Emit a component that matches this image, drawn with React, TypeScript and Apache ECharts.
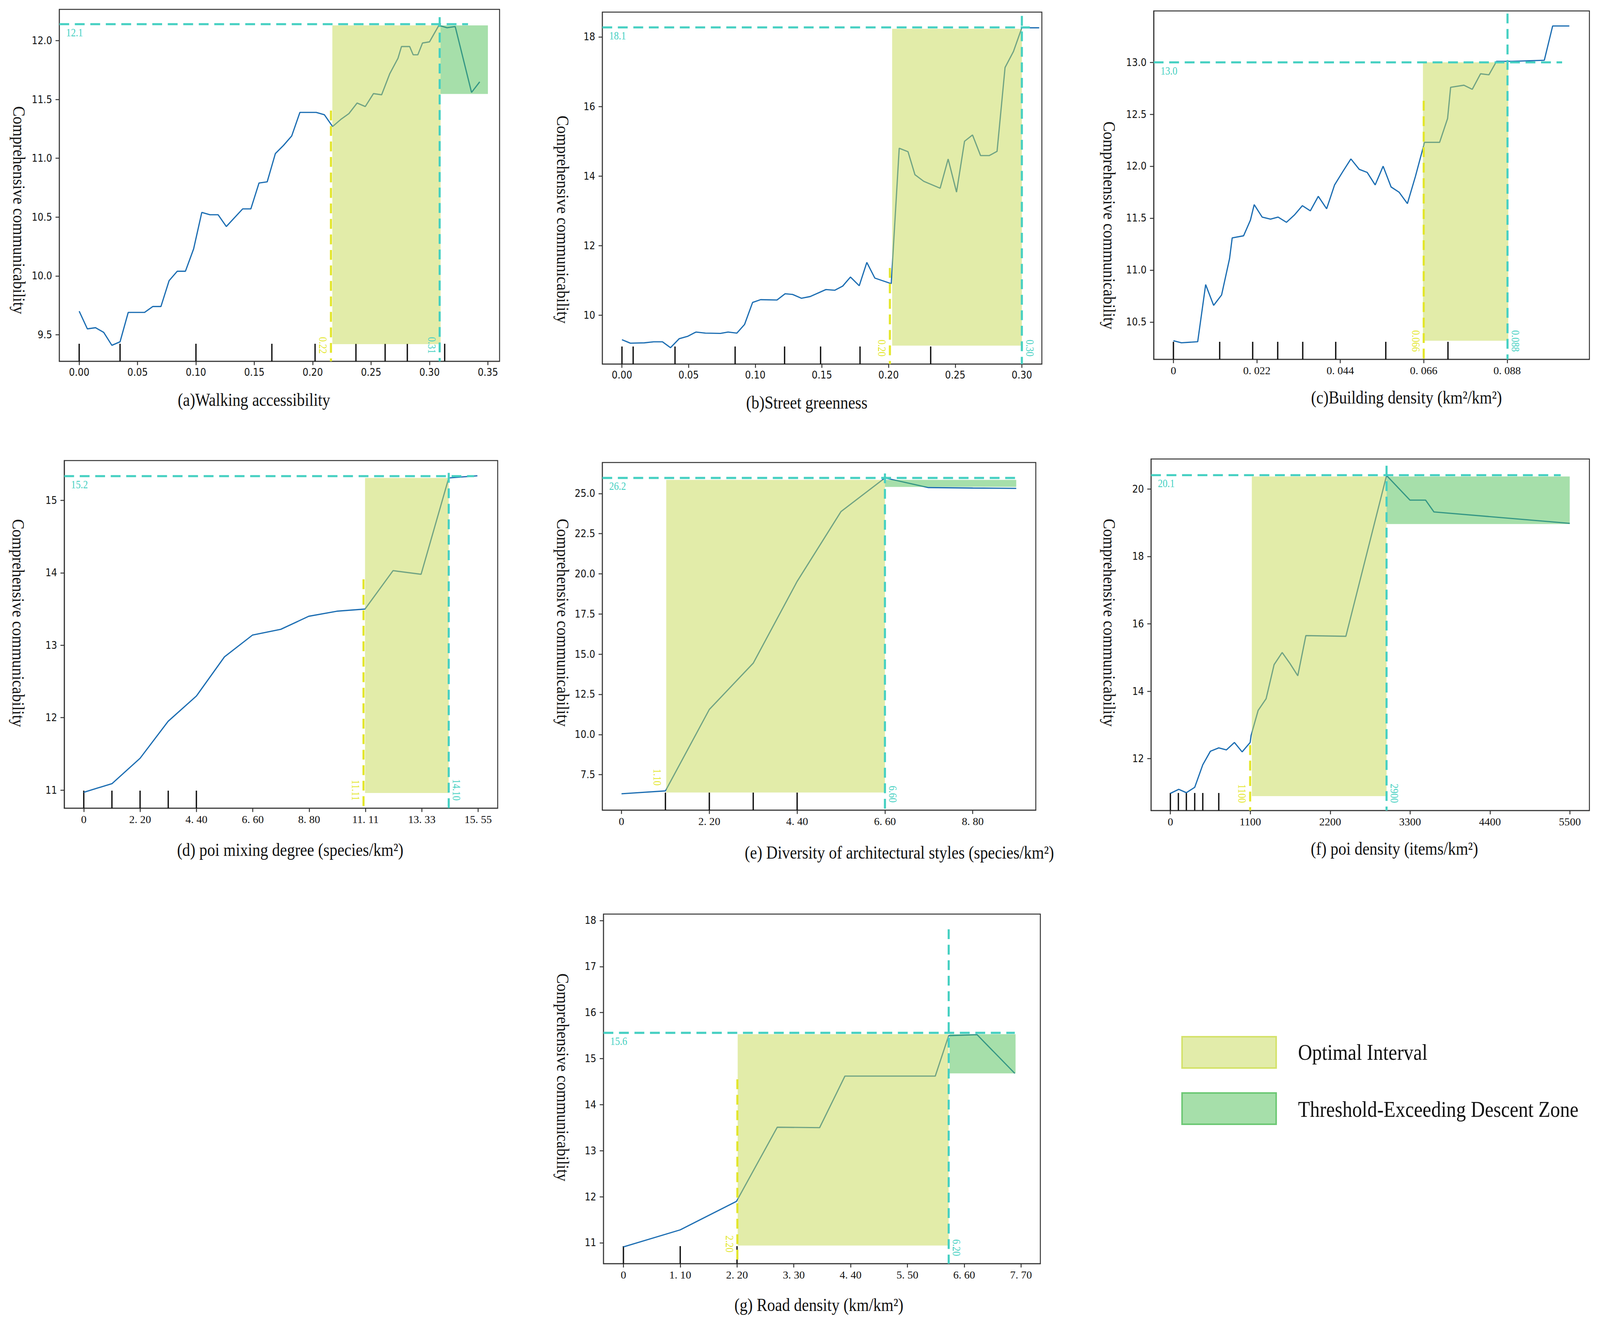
import React, { useEffect, useRef } from "react";
import * as echarts from "echarts";

// ---------------- data: (a) Walking accessibility ----------------
const aX = [0, 0.007, 0.014, 0.021, 0.028, 0.035, 0.042, 0.056, 0.063, 0.07, 0.077, 0.084, 0.091, 0.098, 0.105, 0.112, 0.119, 0.126, 0.14, 0.147, 0.154, 0.161, 0.168, 0.175, 0.182, 0.189, 0.203, 0.21, 0.217, 0.224, 0.231, 0.238, 0.245, 0.252, 0.259, 0.266, 0.273, 0.276, 0.283, 0.286, 0.29, 0.294, 0.3, 0.308, 0.315, 0.322, 0.336, 0.343];
const aY = [9.7, 9.55, 9.56, 9.52, 9.41, 9.44, 9.69, 9.69, 9.74, 9.74, 9.96, 10.04, 10.04, 10.23, 10.54, 10.52, 10.52, 10.42, 10.57, 10.57, 10.79, 10.8, 11.04, 11.11, 11.19, 11.39, 11.39, 11.37, 11.27, 11.33, 11.38, 11.47, 11.44, 11.55, 11.54, 11.72, 11.85, 11.95, 11.95, 11.88, 11.88, 11.98, 11.99, 12.13, 12.11, 12.12, 11.56, 11.65];
const aXRange = [-0.017, 0.36];
const aYRange = [9.274, 12.266];
const aXTicks = [0, 0.05, 0.1, 0.15, 0.2, 0.25, 0.3, 0.35];
const aXTickLabels = ["0.00", "0.05", "0.10", "0.15", "0.20", "0.25", "0.30", "0.35"];
const aYTicks = [9.5, 10, 10.5, 11, 11.5, 12];
const aYTickLabels = ["9.5", "10.0", "10.5", "11.0", "11.5", "12.0"];
const aRug = [0, 0.035, 0.1, 0.165, 0.202, 0.237, 0.262, 0.281, 0.313];
const aOptimal = [0.2168, 0.3095, 9.42, 12.13];
const aDescent = [0.3095, 0.35, 11.547, 12.13];
const aPeak = [0.333, 12.14];
const aUpper = [0.3087, 12.2];
const aLower = [0.2156, 11.406];
const aLabels = ["12.1", "0.31", "0.22"];
const aTitle = "(a)Walking accessibility";

// ---------------- data: (b) Street greenness ----------------
const bX = [0, 0.0063, 0.0168, 0.0238, 0.0304, 0.0364, 0.043, 0.0495, 0.0555, 0.0626, 0.0739, 0.0796, 0.0862, 0.092, 0.098, 0.104, 0.1163, 0.1224, 0.128, 0.1347, 0.1412, 0.153, 0.1596, 0.1656, 0.1714, 0.178, 0.1837, 0.1897, 0.202, 0.208, 0.2146, 0.2198, 0.2264, 0.2387, 0.2447, 0.251, 0.257, 0.263, 0.269, 0.2756, 0.2814, 0.2874, 0.2937, 0.3, 0.313];
const bY = [9.3, 9.2, 9.21, 9.24, 9.24, 9.07, 9.33, 9.4, 9.52, 9.49, 9.48, 9.52, 9.49, 9.74, 10.37, 10.45, 10.44, 10.62, 10.6, 10.49, 10.54, 10.74, 10.72, 10.84, 11.1, 10.85, 11.52, 11.07, 10.91, 14.8, 14.7, 14.04, 13.85, 13.65, 14.49, 13.54, 15.0, 15.18, 14.59, 14.59, 14.71, 17.12, 17.58, 18.26, 18.26];
const bXRange = [-0.0147, 0.315];
const bYRange = [8.6, 18.71];
const bXTicks = [0, 0.05, 0.1, 0.15, 0.2, 0.25, 0.3];
const bXTickLabels = ["0.00", "0.05", "0.10", "0.15", "0.20", "0.25", "0.30"];
const bYTicks = [10, 12, 14, 16, 18];
const bYTickLabels = ["10", "12", "14", "16", "18"];
const bRug = [0, 0.0084, 0.0398, 0.0849, 0.122, 0.149, 0.1786, 0.2316];
const bOptimal = [0.2027, 0.3, 9.13, 18.23];
const bPeak = [0.306, 18.27];
const bUpper = [0.3, 18.6];
const bLower = [0.201, 11.36];
const bLabels = ["18.1", "0.30", "0.20"];
const bTitle = "(b)Street greenness";

// ---------------- data: (c) Building density ----------------
const cX = [0, 0.0021, 0.0064, 0.0085, 0.0106, 0.0127, 0.0148, 0.0155, 0.0185, 0.0203, 0.0213, 0.0234, 0.0256, 0.0276, 0.0298, 0.0319, 0.034, 0.0361, 0.0382, 0.0404, 0.0425, 0.0447, 0.0468, 0.049, 0.0511, 0.0532, 0.0553, 0.0574, 0.0595, 0.0617, 0.0638, 0.066, 0.0662, 0.0702, 0.0723, 0.0731, 0.0766, 0.0788, 0.081, 0.0832, 0.0852, 0.0893, 0.0978, 0.1, 0.1044];
const cY = [10.32, 10.3, 10.31, 10.86, 10.66, 10.76, 11.11, 11.31, 11.33, 11.48, 11.63, 11.51, 11.49, 11.51, 11.46, 11.53, 11.62, 11.57, 11.71, 11.59, 11.82, 11.95, 12.07, 11.97, 11.94, 11.82, 12.0, 11.8, 11.75, 11.64, 11.9, 12.2, 12.23, 12.23, 12.46, 12.76, 12.78, 12.74, 12.89, 12.88, 13.01, 13.01, 13.02, 13.35, 13.35];
const cXRange = [-0.0052, 0.1097];
const cYRange = [10.14, 13.495];
const cXTicks = [0, 0.022, 0.044, 0.066, 0.088];
const cXTickLabels = ["0", "0. 022", "0. 044", "0. 066", "0. 088"];
const cYTicks = [10.5, 11, 11.5, 12, 12.5, 13];
const cYTickLabels = ["10.5", "11.0", "11.5", "12.0", "12.5", "13.0"];
const cRug = [0, 0.0122, 0.0209, 0.0275, 0.0341, 0.0428, 0.056, 0.0724];
const cOptimal = [0.0658, 0.0883, 10.32, 13.0];
const cPeak = [0.1025, 13.0];
const cUpper = [0.0881, 13.47];
const cLower = [0.066, 12.63];
const cLabels = ["13.0", "0.088", "0.066"];
const cTitle = "(c)Building density (km²/km²)";

// ---------------- data: (d) poi mixing degree ----------------
const dX = [0, 1.117, 2.22, 3.326, 4.443, 5.547, 6.65, 7.768, 8.87, 9.977, 11.09, 12.194, 13.3, 14.39, 15.52];
const dY = [10.97, 11.09, 11.44, 11.95, 12.3, 12.84, 13.14, 13.22, 13.4, 13.47, 13.5, 14.03, 13.98, 15.31, 15.34];
const dXRange = [-0.77, 16.32];
const dYRange = [10.75, 15.55];
const dXTicks = [0, 2.2214, 4.4429, 6.6643, 8.8857, 11.1071, 13.3286, 15.55];
const dXTickLabels = ["0", "2. 20", "4. 40", "6. 60", "8. 80", "11. 11", "13. 33", "15. 55"];
const dYTicks = [11, 12, 13, 14, 15];
const dYTickLabels = ["11", "12", "13", "14", "15"];
const dRug = [0, 1.11, 2.22, 3.33, 4.44];
const dOptimal = [11.09, 14.39, 10.96, 15.31];
const dPeak = [15.39, 15.335];
const dUpper = [14.39, 15.38];
const dLower = [11.03, 13.91];
const dLabels = ["15.2", "14.10", "11.11"];
const dTitle = "(d) poi mixing degree (species/km²)";

// ---------------- data: (e) Diversity of architectural styles ----------------
const eX = [0, 1.1, 2.2, 3.3, 4.4, 5.5, 6.6, 7.69, 8.8, 9.89];
const eY = [6.31, 6.49, 11.56, 14.44, 19.53, 23.88, 25.97, 25.37, 25.34, 25.32];
const eXRange = [-0.48, 10.38];
const eYRange = [5.29, 26.93];
const eXTicks = [0, 2.2, 4.4, 6.6, 8.8];
const eXTickLabels = ["0", "2. 20", "4. 40", "6. 60", "8. 80"];
const eYTicks = [7.5, 10, 12.5, 15, 17.5, 20, 22.5, 25];
const eYTickLabels = ["7.5", "10.0", "12.5", "15.0", "17.5", "20.0", "22.5", "25.0"];
const eRug = [1.1, 2.2, 3.3, 4.4];
const eOptimal = [1.12, 6.6, 6.39, 25.85];
const eDescent = [6.6, 9.89, 25.41, 25.85];
const ePeak = [9.89, 25.97];
const eUpper = [6.6, 26.25];
const eLower = [1.1, null];
const eLabels = ["26.2", "6.60", "1.10"];
const eTitle = "(e) Diversity of architectural styles (species/km²)";

// ---------------- data: (f) poi density ----------------
const fX = [0, 115, 220, 335, 446, 551, 666, 772, 882, 988, 1098, 1111, 1208, 1318, 1428, 1539, 1644, 1754, 1865, 2416, 2976, 3298, 3514, 3628, 5498];
const fY = [10.97, 11.09, 10.99, 11.15, 11.82, 12.22, 12.32, 12.26, 12.48, 12.2, 12.48, 12.69, 13.43, 13.78, 14.79, 15.15, 14.83, 14.46, 15.65, 15.63, 20.4, 19.67, 19.67, 19.32, 18.98];
const fXRange = [-266, 5769];
const fYRange = [10.46, 20.89];
const fXTicks = [0, 1100, 2200, 3300, 4400, 5500];
const fXTickLabels = ["0", "1100", "2200", "3300", "4400", "5500"];
const fYTicks = [12, 14, 16, 18, 20];
const fYTickLabels = ["12", "14", "16", "18", "20"];
const fRug = [0, 110, 220, 335, 446, 666];
const fOptimal = [1121, 2976, 10.89, 20.37];
const fDescent = [2976, 5498, 18.96, 20.37];
const fPeak = [5374, 20.41];
const fUpper = [2976, 20.69];
const fLower = [1098, 12.4];
const fLabels = ["20.1", "2900", "1100"];
const fTitle = "(f) poi density (items/km²)";

// ---------------- data: (g) Road density ----------------
const gX = [0, 1.1, 2.19, 2.98, 3.8, 4.29, 6.04, 6.3, 6.85, 7.58];
const gY = [10.91, 11.28, 11.9, 13.51, 13.5, 14.62, 14.62, 15.5, 15.52, 14.68];
const gXRange = [-0.386, 8.075];
const gYRange = [10.545, 18.14];
const gXTicks = [0, 1.1, 2.2, 3.3, 4.4, 5.5, 6.6, 7.7];
const gXTickLabels = ["0", "1. 10", "2. 20", "3. 30", "4. 40", "5. 50", "6. 60", "7. 70"];
const gYTicks = [11, 12, 13, 14, 15, 16, 17, 18];
const gYTickLabels = ["11", "12", "13", "14", "15", "16", "17", "18"];
const gRug = [0, 1.1, 2.2];
const gOptimal = [2.213, 6.3, 10.94, 15.53];
const gDescent = [6.315, 7.595, 14.68, 15.53];
const gPeak = [7.58, 15.56];
const gUpper = [6.3, 17.81];
const gLower = [2.207, 14.55];
const gLabels = ["15.6", "6.20", "2.20"];
const gTitle = "(g) Road density (km/km²)";

const yAxisName = "Comprehensive communicability";
const legendLabels = ["Optimal Interval", "Threshold-Exceeding Descent Zone"];

// ---------------- styling ----------------
const BLUE = "#1b6db2";
const TEAL = "#46d0c2";
const YELLOW = "#e3e62b";
const OPT_FILL = "rgba(197,218,84,0.5)";
const DES_FILL = "rgba(77,192,86,0.5)";
const AXIS = "#333333";
const SANS = "'DejaVu Sans Condensed', 'DejaVu Sans', sans-serif";
const SERIF = "'Liberation Serif', 'Times New Roman', serif";
const REF_W = 4234;
const REF_H = 3374;

const panels = [
  { x: aX, y: aY, xr: aXRange, yr: aYRange, xt: aXTicks, xl: aXTickLabels, yt: aYTicks, yl: aYTickLabels, rug: aRug, opt: aOptimal, des: aDescent, peak: aPeak, up: aUpper, low: aLower, labels: aLabels, title: aTitle,
    grid: [157, 24, 1165, 901], titlePos: [672, 1023], yNamePos: [51, 538], upSide: -1, xSerif: false, lowLift: 20 },
  { x: bX, y: bY, xr: bXRange, yr: bYRange, xt: bXTicks, xl: bXTickLabels, yt: bYTicks, yl: bYTickLabels, rug: bRug, opt: bOptimal, des: null, peak: bPeak, up: bUpper, low: bLower, labels: bLabels, title: bTitle,
    grid: [1594, 31, 1163, 901], titlePos: [2135, 1030], yNamePos: [1490, 562], upSide: 1, xSerif: false, lowLift: 20 },
  { x: cX, y: cY, xr: cXRange, yr: cYRange, xt: cXTicks, xl: cXTickLabels, yt: cYTicks, yl: cYTickLabels, rug: cRug, opt: cOptimal, des: null, peak: cPeak, up: cUpper, low: cLower, labels: cLabels, title: cTitle,
    grid: [3053, 28, 1153, 892], titlePos: [3722, 1017], yNamePos: [2936, 577], upSide: 1, xSerif: true, lowLift: 20 },
  { x: dX, y: dY, xr: dXRange, yr: dYRange, xt: dXTicks, xl: dXTickLabels, yt: dYTicks, yl: dYTickLabels, rug: dRug, opt: dOptimal, des: null, peak: dPeak, up: dUpper, low: dLower, labels: dLabels, title: dTitle,
    grid: [170, 1179, 1147, 890], titlePos: [768, 2175], yNamePos: [49, 1595], upSide: 1, xSerif: true, lowLift: 20 },
  { x: eX, y: eY, xr: eXRange, yr: eYRange, xt: eXTicks, xl: eXTickLabels, yt: eYTicks, yl: eYTickLabels, rug: eRug, opt: eOptimal, des: eDescent, peak: ePeak, up: eUpper, low: eLower, labels: eLabels, title: eTitle,
    grid: [1594, 1184, 1147, 890], titlePos: [2380, 2182], yNamePos: [1490, 1594], upSide: 1, xSerif: true, lowLift: 65 },
  { x: fX, y: fY, xr: fXRange, yr: fYRange, xt: fXTicks, xl: fXTickLabels, yt: fYTicks, yl: fYTickLabels, rug: fRug, opt: fOptimal, des: fDescent, peak: fPeak, up: fUpper, low: fLower, labels: fLabels, title: fTitle,
    grid: [3046, 1175, 1160, 900], titlePos: [3690, 2172], yNamePos: [2936, 1594], upSide: 1, xSerif: true, lowLift: 20 },
  { x: gX, y: gY, xr: gXRange, yr: gYRange, xt: gXTicks, xl: gXTickLabels, yt: gYTicks, yl: gYTickLabels, rug: gRug, opt: gOptimal, des: gDescent, peak: gPeak, up: gUpper, low: gLower, labels: gLabels, title: gTitle,
    grid: [1597, 2340, 1156, 895], titlePos: [2167, 3340], yNamePos: [1490, 2758], upSide: 1, xSerif: true, lowLift: 30 },
];

function labelFor(ticks: number[], labels: string[], v: number) {
  let best = 0;
  for (let k = 1; k < ticks.length; k++) {
    if (Math.abs(ticks[k] - v) < Math.abs(ticks[best] - v)) best = k;
  }
  return labels[best];
}

function textStyle(text: string, fill: string, size: number, family: string, align: string, valign: string) {
  return { text, fill, fontSize: size, fontFamily: family, align, textAlign: align, verticalAlign: valign, textVerticalAlign: valign };
}

function buildOption(sx: number, sy: number) {
  const s = Math.min(sx, sy);
  const X = (v: number) => v * sx;
  const Y = (v: number) => v * sy;
  const S = (v: number) => v * s;
  const grid: any[] = [];
  const xAxis: any[] = [];
  const yAxis: any[] = [];
  const series: any[] = [];
  const graphic: any[] = [];
  const dash = [S(26), S(15)];
  const guideW = S(5.5);

  panels.forEach((p, i) => {
    grid.push({
      left: X(p.grid[0]), top: Y(p.grid[1]), width: X(p.grid[2]), height: Y(p.grid[3]),
      show: true, borderColor: AXIS, borderWidth: S(2.5), backgroundColor: "transparent",
    });
    xAxis.push({
      type: "value", gridIndex: i, min: p.xr[0], max: p.xr[1],
      axisLine: { show: true, onZero: false, lineStyle: { color: AXIS, width: S(2.5) } },
      axisTick: { show: true, length: S(10), customValues: p.xt, lineStyle: { color: AXIS, width: S(2.5) } },
      axisLabel: {
        customValues: p.xt, formatter: (v: number) => labelFor(p.xt, p.xl, v),
        fontSize: S(p.xSerif ? 29 : 27), color: "#111", fontFamily: p.xSerif ? SERIF : SANS, margin: S(15),
      },
      splitLine: { show: false },
    });
    yAxis.push({
      type: "value", gridIndex: i, min: p.yr[0], max: p.yr[1],
      axisLine: { show: true, onZero: false, lineStyle: { color: AXIS, width: S(2.5) } },
      axisTick: { show: true, length: S(10), customValues: p.yt, lineStyle: { color: AXIS, width: S(2.5) } },
      axisLabel: {
        customValues: p.yt, formatter: (v: number) => labelFor(p.yt, p.yl, v),
        fontSize: S(27), color: "#111", fontFamily: SANS, margin: S(19),
      },
      splitLine: { show: false },
    });

    // rug ticks
    series.push({
      type: "custom", xAxisIndex: i, yAxisIndex: i, z: 1, silent: true,
      data: p.rug.map((v) => [v, p.yr[0]]),
      renderItem: (_params: any, api: any) => {
        const pt = api.coord([api.value(0), p.yr[0]]);
        return { type: "line", shape: { x1: pt[0], y1: pt[1], x2: pt[0], y2: pt[1] - Y(45) }, style: { stroke: "#111", lineWidth: S(3.5) } };
      },
    });

    // curve
    series.push({
      type: "line", xAxisIndex: i, yAxisIndex: i, z: 2, silent: true,
      data: p.x.map((v, k) => [v, p.y[k]]),
      showSymbol: false, symbol: "none",
      lineStyle: { color: BLUE, width: S(3.2) },
    });

    // zones
    const zones: any[] = [[...p.opt, 0]];
    if (p.des) zones.push([...p.des, 1]);
    series.push({
      type: "custom", xAxisIndex: i, yAxisIndex: i, z: 3, silent: true,
      data: zones,
      renderItem: (_params: any, api: any) => {
        const p0 = api.coord([api.value(0), api.value(3)]);
        const p1 = api.coord([api.value(1), api.value(2)]);
        return {
          type: "rect",
          shape: { x: p0[0], y: p0[1], width: p1[0] - p0[0], height: p1[1] - p0[1] },
          style: { fill: api.value(4) === 1 ? DES_FILL : OPT_FILL },
        };
      },
    });

    // guides
    series.push({
      type: "custom", xAxisIndex: i, yAxisIndex: i, z: 4, silent: true,
      data: [[p.xr[0], p.yr[0]]],
      renderItem: (_params: any, api: any) => {
        const base = api.coord([p.xr[0], p.yr[0]]);
        const xl = base[0];
        const yb = base[1];
        const children: any[] = [];
        const h = api.coord([p.peak[0], p.peak[1]]);
        children.push({ type: "line", shape: { x1: xl, y1: h[1], x2: h[0], y2: h[1] }, style: { stroke: TEAL, lineWidth: guideW, lineDash: dash } });
        children.push({
          type: "text", x: xl + S(18), y: h[1] + S(7), scaleX: 0.85,
          style: textStyle(p.labels[0], TEAL, S(30), SERIF, "left", "top"),
        });
        const u = api.coord([p.up[0], p.up[1]]);
        children.push({ type: "line", shape: { x1: u[0], y1: u[1], x2: u[0], y2: yb }, style: { stroke: TEAL, lineWidth: guideW, lineDash: dash } });
        children.push({
          type: "text", x: u[0] + p.upSide * S(21), y: yb - S(20), rotation: -Math.PI / 2, scaleX: 0.85,
          style: textStyle(p.labels[1], TEAL, S(30), SERIF, "right", "middle"),
        });
        const lx = api.coord([p.low[0], p.yr[0]])[0];
        if (p.low[1] !== null) {
          const ly = api.coord([p.low[0], p.low[1] as number])[1];
          children.push({ type: "line", shape: { x1: lx, y1: ly, x2: lx, y2: yb }, style: { stroke: YELLOW, lineWidth: guideW, lineDash: dash } });
        }
        children.push({
          type: "text", x: lx - S(21), y: yb - S(p.lowLift), rotation: -Math.PI / 2, scaleX: 0.85,
          style: textStyle(p.labels[2], YELLOW, S(30), SERIF, "right", "middle"),
        });
        return { type: "group", children };
      },
    });

    graphic.push({
      type: "text", x: X(p.titlePos[0]), y: Y(p.titlePos[1]), scaleX: 0.87,
      style: textStyle(p.title, "#111", S(48), SERIF, "center", "middle"),
    });
    graphic.push({
      type: "text", x: X(p.yNamePos[0]), y: Y(p.yNamePos[1]), rotation: -Math.PI / 2, scaleX: 0.9,
      style: textStyle(yAxisName, "#111", S(46), SERIF, "center", "middle"),
    });
  });

  // legend
  graphic.push({ type: "rect", shape: { x: X(3128), y: Y(2654), width: X(249), height: Y(80) }, style: { fill: "#e2ecaa", stroke: "#d4e26a", lineWidth: S(4) } });
  graphic.push({ type: "rect", shape: { x: X(3128), y: Y(2798), width: X(249), height: Y(80) }, style: { fill: "#a6dfaa", stroke: "#6cc874", lineWidth: S(4) } });
  graphic.push({
    type: "text", x: X(3435), y: Y(2694), scaleX: 0.86,
    style: textStyle(legendLabels[0], "#111", S(60), SERIF, "left", "middle"),
  });
  graphic.push({
    type: "text", x: X(3435), y: Y(2840), scaleX: 0.86,
    style: textStyle(legendLabels[1], "#111", S(60), SERIF, "left", "middle"),
  });

  return {
    animation: false,
    backgroundColor: "#ffffff",
    grid, xAxis, yAxis, series, graphic,
  };
}

export default function App() {
  const ref = useRef<HTMLDivElement>(null);
  useEffect(() => {
    const el = ref.current;
    if (!el) return;
    const w = el.clientWidth || REF_W;
    const h = el.clientHeight || REF_H;
    const chart = echarts.init(el, null, { renderer: "svg", width: w, height: h });
    chart.setOption(buildOption(w / REF_W, h / REF_H) as any);
    return () => chart.dispose();
  }, []);
  return (
    <div
      ref={ref}
      style={{ position: "fixed", left: 0, top: 0, width: "100vw", height: "100vh", background: "#fff", overflow: "hidden" }}
    />
  );
}
